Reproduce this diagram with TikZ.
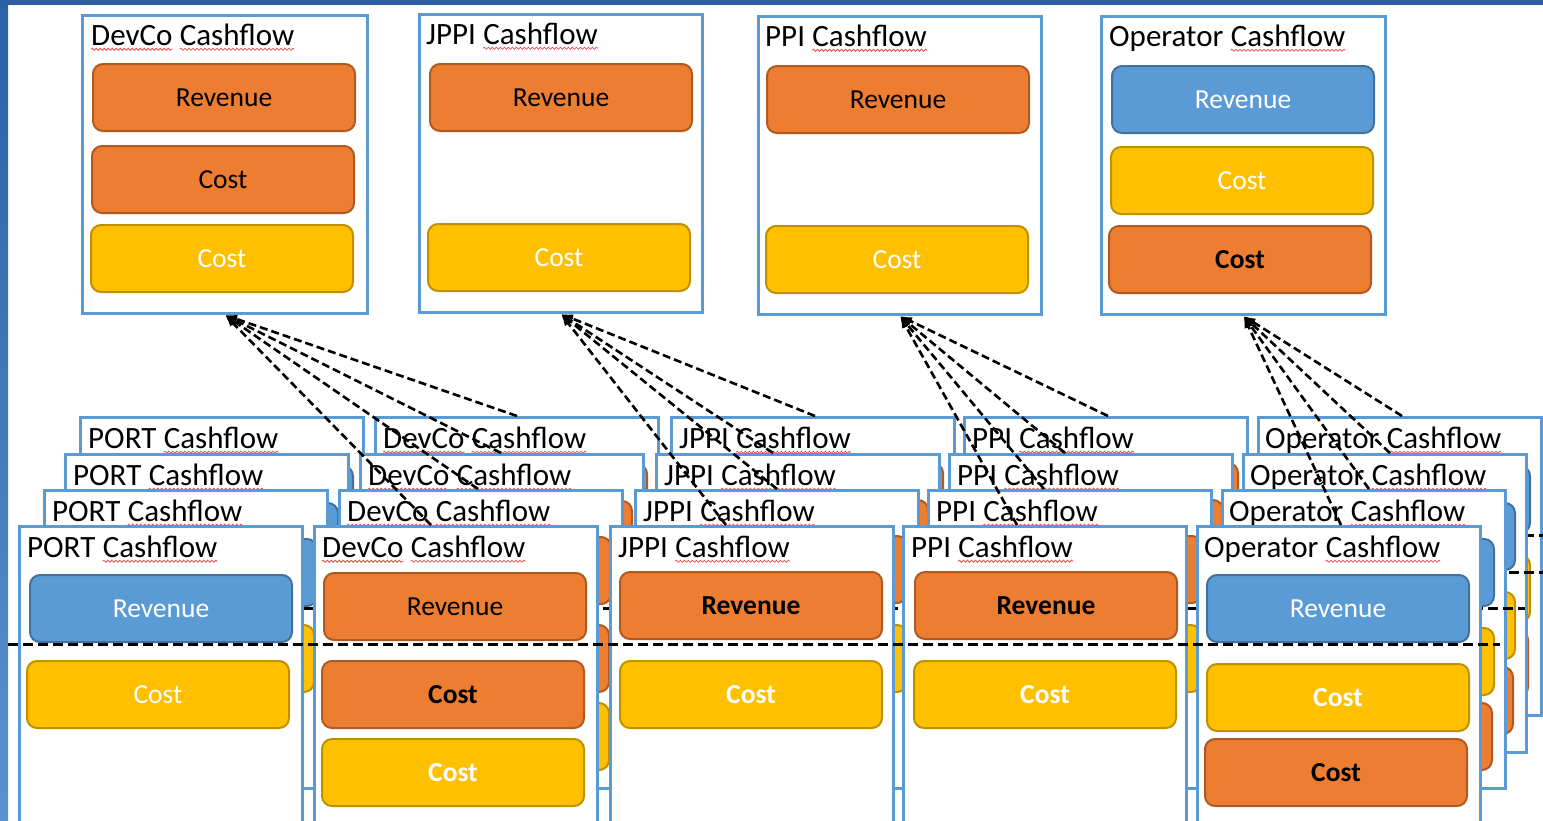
\documentclass[tikz,border=0pt]{standalone}
\usepackage{fontspec}
\setmainfont{Carlito}
\usepackage{tikz}
\usetikzlibrary{positioning, arrows.meta, decorations.pathmorphing}

\definecolor{boxblue}{HTML}{5B9BD5}
\definecolor{cashorange}{HTML}{ED7D31}
\definecolor{orangeedge}{HTML}{AE5A21}
\definecolor{cashyellow}{HTML}{FFC000}
\definecolor{yellowedge}{HTML}{BF9000}
\definecolor{cashblue}{HTML}{5B9BD5}
\definecolor{blueedge}{HTML}{41719C}
\definecolor{spellred}{HTML}{E85050}
\definecolor{stripblue}{HTML}{2C5FA4}
\definecolor{striplight}{HTML}{5A92CE}

\newcommand{\titlefont}{\fontsize{31}{34}\selectfont}
\newcommand{\itemfont}{\fontsize{27.5}{29}\selectfont}

\tikzset{
	cashbox/.style={draw=boxblue, line width=3pt, fill=white, minimum width=283pt,
		minimum height=298pt, anchor=north west, inner sep=0pt},
	cashtitle/.style={font=\titlefont, text height=22pt, text depth=7pt, inner sep=0pt},
	item/.style={rounded corners=10pt, line width=2pt, minimum width=262pt,
		minimum height=67pt, inner sep=0pt, font=\itemfont},
	orangeitem/.style={item, fill=cashorange, draw=orangeedge, text=black},
	yellowitem/.style={item, fill=cashyellow, draw=yellowedge, text=white},
	blueitem/.style={item, fill=cashblue, draw=blueedge, text=white},
	strong/.style={font=\itemfont\bfseries},
	spellwave/.style={draw=spellred, line width=0.8pt, decorate,
		decoration={snake, amplitude=1pt, segment length=4pt}},
	layerline/.style={line width=3pt, dash pattern=on 10pt off 5pt},
	fanline/.style={->, >={Latex[length=12pt, width=9pt]}, line width=2.6pt,
		dash pattern=on 8pt off 4pt}
}

% red wave under a title word
\newcommand{\spell}[1]{\draw[spellwave] ([yshift=-4pt]#1.base west) -- ([yshift=-4pt]#1.base east);}

\begin{document}
\begin{tikzpicture}[x=1pt, y=-1pt]
	\useasboundingbox (0,0) rectangle (1543,820);
	\clip (0,0) rectangle (1543,820);
	\fill[white] (0,0) rectangle (1543,820);
	\fill[stripblue] (0,0) rectangle (1543,5);
	\shade[top color=stripblue, bottom color=striplight] (0,0) rectangle (8,820);

	% top row
	\node[cashbox, minimum width=285pt] (devcotop) at (81,14) {};
	\node[cashtitle, below right=9pt and 10pt of devcotop.north west] (devcotop-name) {DevCo};
	\node[cashtitle, right=7pt of devcotop-name] (devcotop-flow) {Cashflow};
	\spell{devcotop-name} \spell{devcotop-flow}
	\node[orangeitem, below right=49pt and 11pt of devcotop.north west] (devcotop-rev) {Revenue};
	\node[orangeitem, below right=131pt and 10pt of devcotop.north west] (devcotop-cost) {Cost};
	\node[yellowitem, below right=210pt and 9pt of devcotop.north west] (devcotop-cost2) {Cost};

	\node[cashbox] (jppitop) at (418,13) {};
	\node[cashtitle, below right=9pt and 8pt of jppitop.north west] (jppitop-name) {JPPI};
	\node[cashtitle, right=7pt of jppitop-name] (jppitop-flow) {Cashflow};
	\spell{jppitop-flow}
	\node[orangeitem, below right=50pt and 11pt of jppitop.north west] (jppitop-rev) {Revenue};
	\node[yellowitem, below right=210pt and 9pt of jppitop.north west] (jppitop-cost) {Cost};

	\node[cashbox] (ppitop) at (757,15) {};
	\node[cashtitle, below right=9pt and 8pt of ppitop.north west] (ppitop-name) {PPI};
	\node[cashtitle, right=7pt of ppitop-name] (ppitop-flow) {Cashflow};
	\spell{ppitop-flow}
	\node[orangeitem, below right=50pt and 9pt of ppitop.north west] (ppitop-rev) {Revenue};
	\node[yellowitem, below right=210pt and 8pt of ppitop.north west] (ppitop-cost) {Cost};

	\node[cashbox, minimum width=284pt] (opertop) at (1100,15) {};
	\node[cashtitle, below right=9pt and 9pt of opertop.north west] (opertop-name) {Operator};
	\node[cashtitle, right=7pt of opertop-name] (opertop-flow) {Cashflow};
	\spell{opertop-flow}
	\node[blueitem, below right=50pt and 11pt of opertop.north west] (opertop-rev) {Revenue};
	\node[yellowitem, below right=131pt and 10pt of opertop.north west] (opertop-cost) {Cost};
	\node[orangeitem, strong, below right=210pt and 8pt of opertop.north west] (opertop-cost2) {Cost};

	% stacked layers, back to front
	\foreach \lay/\dx/\dy in {4/61/-109, 3/46/-72, 2/25/-36, 1/0/0} {
		\begin{scope}[shift={(\dx,\dy)}]
			\node[cashbox] (port\lay) at (18,525) {};
			\node[cashtitle, below right=10pt and 9pt of port\lay.north west] (port\lay-name) {PORT};
			\node[cashtitle, right=7pt of port\lay-name] (port\lay-flow) {Cashflow};
			\spell{port\lay-flow}
			\node[blueitem, below right=49pt and 11pt of port\lay.north west] (port\lay-rev) {Revenue};
			\node[yellowitem, below right=135pt and 8pt of port\lay.north west] (port\lay-cost) {Cost};

			\node[cashbox] (devco\lay) at (313,525) {};
			\node[cashtitle, below right=10pt and 9pt of devco\lay.north west] (devco\lay-name) {DevCo};
			\node[cashtitle, right=7pt of devco\lay-name] (devco\lay-flow) {Cashflow};
			\spell{devco\lay-name} \spell{devco\lay-flow}
			\node[orangeitem, below right=47pt and 10pt of devco\lay.north west] (devco\lay-rev) {Revenue};
			\node[orangeitem, strong, below right=135pt and 8pt of devco\lay.north west] (devco\lay-cost) {Cost};
			\node[yellowitem, strong, below right=213pt and 8pt of devco\lay.north west] (devco\lay-cost2) {Cost};

			\node[cashbox] (jppi\lay) at (609,525) {};
			\node[cashtitle, below right=10pt and 9pt of jppi\lay.north west] (jppi\lay-name) {JPPI};
			\node[cashtitle, right=7pt of jppi\lay-name] (jppi\lay-flow) {Cashflow};
			\spell{jppi\lay-flow}
			\node[orangeitem, strong, below right=46pt and 10pt of jppi\lay.north west] (jppi\lay-rev) {Revenue};
			\node[yellowitem, strong, below right=135pt and 10pt of jppi\lay.north west] (jppi\lay-cost) {Cost};

			\node[cashbox] (ppi\lay) at (902,525) {};
			\node[cashtitle, below right=10pt and 9pt of ppi\lay.north west] (ppi\lay-name) {PPI};
			\node[cashtitle, right=7pt of ppi\lay-name] (ppi\lay-flow) {Cashflow};
			\spell{ppi\lay-flow}
			\node[orangeitem, strong, below right=46pt and 12pt of ppi\lay.north west] (ppi\lay-rev) {Revenue};
			\node[yellowitem, strong, below right=135pt and 11pt of ppi\lay.north west] (ppi\lay-cost) {Cost};

			\node[cashbox] (oper\lay) at (1196,525) {};
			\node[cashtitle, below right=10pt and 8pt of oper\lay.north west] (oper\lay-name) {Operator};
			\node[cashtitle, right=7pt of oper\lay-name] (oper\lay-flow) {Cashflow};
			\spell{oper\lay-flow}
			\node[blueitem, below right=49pt and 10pt of oper\lay.north west] (oper\lay-rev) {Revenue};
			\node[yellowitem, strong, below right=138pt and 10pt of oper\lay.north west] (oper\lay-cost) {Cost};
			\node[orangeitem, strong, below right=213pt and 8pt of oper\lay.north west] (oper\lay-cost2) {Cost};

			\coordinate (cut\lay-a) at (8,644);
			\coordinate (cut\lay-b) at (1500,644);
			\draw[layerline] (cut\lay-a) -- (cut\lay-b);
		\end{scope}
	}

	% links up to the top row
	\foreach \lay/\off in {1/-25, 2/-3, 3/-1, 4/0}
		\draw[fanline] ([xshift=\off pt]devco\lay.north) -- (devcotop.south);
	\foreach \lay/\off in {1/-26, 2/0, 3/-25, 4/2}
		\draw[fanline] ([xshift=\off pt]jppi\lay.north) -- (jppitop.south);
	\foreach \lay/\off in {1/-28, 2/-26, 3/-26, 4/2}
		\draw[fanline] ([xshift=\off pt]ppi\lay.north) -- (ppitop.south);
	\foreach \lay/\off in {1/2, 2/5, 3/5, 4/2}
		\draw[fanline] ([xshift=\off pt]oper\lay.north) -- (opertop.south);
\end{tikzpicture}
\end{document}
